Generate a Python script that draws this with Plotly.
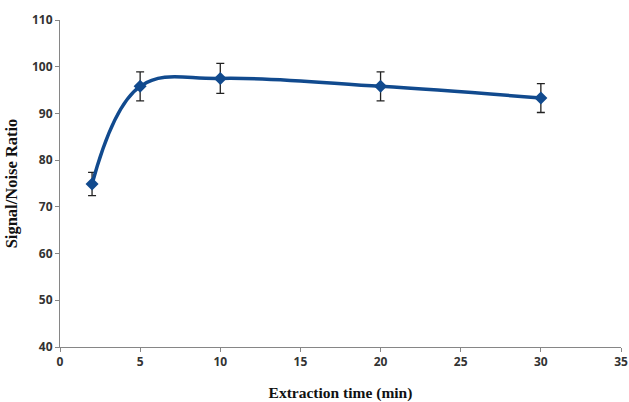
import plotly.graph_objects as go

time_min = [2, 5, 10, 20, 30]
sn_ratio = [74.9, 95.8, 97.5, 95.8, 93.3]
sn_error = [2.5, 3.1, 3.2, 3.1, 3.1]

x_ticks = [0, 5, 10, 15, 20, 25, 30, 35]
y_ticks = [40, 50, 60, 70, 80, 90, 100, 110]

fig = go.Figure()
fig.add_trace(go.Scatter(
    x=time_min, y=sn_ratio,
    mode="lines+markers",
    line=dict(color="#114A8E", width=3.5, shape="spline", smoothing=1.1),
    marker=dict(symbol="diamond", size=10, color="#114A8E"),
    error_y=dict(type="data", array=sn_error, visible=True,
                 color="#222222", thickness=1.3, width=4),
    showlegend=False,
))

tickfont = dict(family="Open Sans", size=12, color="#333333", weight="bold")
fig.update_layout(
    width=629, height=402,
    paper_bgcolor="white", plot_bgcolor="white",
    margin=dict(l=60, r=8, t=20, b=55),
    xaxis=dict(
        range=[0, 35], tickvals=x_ticks, ticktext=[str(v) for v in x_ticks],
        showgrid=False, zeroline=False, showline=True, linecolor="#868686",
        linewidth=1, ticks="outside", ticklen=4, tickcolor="#868686",
        tickfont=tickfont, automargin=False,
        title=dict(text="<b>Extraction time (min)</b>",
                   font=dict(family="Liberation Serif", size=15.5, color="#111111"),
                   standoff=20),
    ),
    yaxis=dict(
        range=[40, 110], tickvals=y_ticks, ticktext=[str(v) for v in y_ticks],
        showgrid=False, zeroline=False, showline=True, linecolor="#868686",
        linewidth=1, ticks="outside", ticklen=4, tickcolor="#868686",
        tickfont=tickfont, automargin=False,
        title=dict(text="<b>Signal/Noise Ratio</b>",
                   font=dict(family="Liberation Serif", size=16.5, color="#111111"),
                   standoff=10),
    ),
)
fig.write_html("out.html", config={"displayModeBar": False})

with open("out.html", "r", encoding="utf-8") as f:
    html = f.read()
html = html.replace("<head>", "<head><style>html,body{margin:0;padding:0;overflow:hidden}</style>", 1)
with open("out.html", "w", encoding="utf-8") as f:
    f.write(html)
